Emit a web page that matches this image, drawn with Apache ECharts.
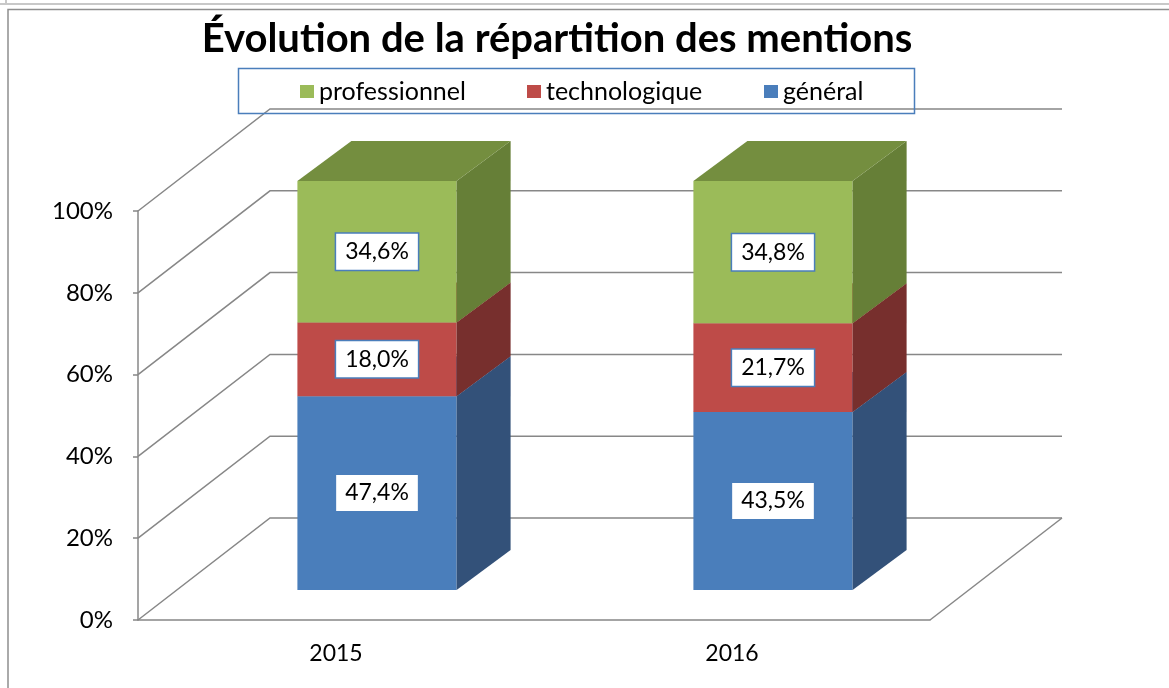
<!DOCTYPE html>
<html>
<head>
<meta charset="utf-8">
<script src="https://cdn.jsdelivr.net/npm/echarts@6/dist/echarts.min.js"></script>
<style>
  html, body { margin: 0; padding: 0; background: #fff; }
  #chart { width: 1169px; height: 688px; }
</style>
</head>
<body>
<div id="chart"></div>
<script>
var years = ['2015', '2016'];
var general = [47.4, 43.5];
var technologique = [18.0, 21.7];
var professionnel = [34.6, 34.8];
var yTicks = [0, 20, 40, 60, 80, 100];

var FONT = 'Lato';
var GRID_COLOR = '#878787';
// 3D offsets in px: front plane -> back wall, and the bar box
var WALL = [132, -102];
var BAR_FRONT = [41, -30];
var BAR_DEPTH = [54, -40];

var chart = echarts.init(document.getElementById('chart'), null, { renderer: 'canvas' });

function fmt(v) {
  return v.toFixed(1).replace('.', ',') + '%';
}

// cumulative stacks -> [catIndex, start, end, value]
function stack(values, bases) {
  return values.map(function (v, i) {
    var start = bases ? bases[i] : 0;
    return [i, start, start + v, v];
  });
}
var genData = stack(general);
var techData = stack(technologique, general);
var proData = stack(professionnel, general.map(function (g, i) { return g + technologique[i]; }));

function renderWall(params, api) {
  var cs = params.coordSys;
  var v = api.value(1);
  var y = api.coord([0, v])[1];
  var x0 = cs.x, x1 = cs.x + cs.width;
  var children = [{
    type: 'polyline',
    shape: { points: [[x0, y], [x0 + WALL[0], y + WALL[1]], [x1 + WALL[0], y + WALL[1]]] },
    style: { stroke: GRID_COLOR, lineWidth: 1.5, fill: null }
  }];
  if (v === 0) {
    children.push({
      type: 'line',
      shape: { x1: x1, y1: y, x2: x1 + WALL[0], y2: y + WALL[1] },
      style: { stroke: GRID_COLOR, lineWidth: 1.5 }
    });
  }
  return { type: 'group', children: children };
}

function barRenderer(front, side, top) {
  return function (params, api) {
    var i = api.value(0);
    var p0 = api.coord([i, api.value(1)]);
    var p1 = api.coord([i, api.value(2)]);
    var w = api.size([1, 0])[0] * 0.402;
    var xl = p0[0] - w / 2 + BAR_FRONT[0], xr = xl + w;
    var yb = p0[1] + BAR_FRONT[1], yt = p1[1] + BAR_FRONT[1];
    var dx = BAR_DEPTH[0], dy = BAR_DEPTH[1];
    return {
      type: 'group',
      children: [
        { type: 'polygon', shape: { points: [[xl, yb], [xr, yb], [xr, yt], [xl, yt]] }, style: { fill: front } },
        { type: 'polygon', shape: { points: [[xr, yb], [xr + dx, yb + dy], [xr + dx, yt + dy], [xr, yt]] }, style: { fill: side } },
        { type: 'polygon', shape: { points: [[xl, yt], [xr, yt], [xr + dx, yt + dy], [xl + dx, yt + dy]] }, style: { fill: top } },
        {
          type: 'text',
          x: (xl + xr) / 2,
          y: (yb + yt) / 2,
          style: {
            text: fmt(api.value(3)),
            align: 'center',
            verticalAlign: 'middle',
            font: '23px ' + FONT,
            fill: '#000',
            backgroundColor: '#fff',
            borderColor: '#4A7EBB',
            borderWidth: 1.5,
            padding: [7, 9, 6, 9]
          }
        }
      ]
    };
  };
}

function legendAt(name, left) {
  return {
    data: [name],
    left: left,
    top: 79,
    padding: 0,
    icon: 'rect',
    itemWidth: 14,
    itemHeight: 13,
    selectedMode: false,
    textStyle: { fontFamily: FONT, fontSize: 25, color: '#000' }
  };
}

var option = {
  backgroundColor: '#fff',
  animation: false,
  graphic: [
    { type: 'line', shape: { x1: 0, y1: 4, x2: 1169, y2: 4 }, style: { stroke: '#c8c8c8', lineWidth: 2 } },
    { type: 'line', shape: { x1: 6, y1: 0, x2: 6, y2: 4 }, style: { stroke: '#c8c8c8', lineWidth: 2 } },
    { type: 'rect', shape: { x: 8, y: 9.5, width: 1200, height: 700 }, style: { fill: null, stroke: '#8f8f8f', lineWidth: 1.5 } },
    {
      type: 'text', x: 557, y: 39,
      style: { text: 'Évolution de la répartition des mentions', align: 'center', verticalAlign: 'middle', font: 'bold 40px ' + FONT, fill: '#000' }
    },
    { type: 'rect', shape: { x: 238.5, y: 68.5, width: 676, height: 45 }, style: { fill: null, stroke: '#4A7EBB', lineWidth: 1.5 }, z: 10 }
  ],
  legend: [
    legendAt('professionnel', 300),
    legendAt('technologique', 527),
    legendAt('général', 764)
  ],
  grid: { left: 138, right: 239, top: 211, bottom: 68, containLabel: false, outerBoundsMode: 'none' },
  xAxis: {
    type: 'category',
    data: years,
    axisLine: { lineStyle: { color: GRID_COLOR, width: 1.5 } },
    axisTick: { length: 6, lineStyle: { color: GRID_COLOR, width: 1.5 } },
    axisLabel: { color: '#000', fontFamily: FONT, fontSize: 23, margin: 22 },
    splitLine: { show: false }
  },
  yAxis: {
    type: 'value',
    min: 0,
    max: 100,
    interval: 20,
    axisLine: { show: true, lineStyle: { color: GRID_COLOR, width: 1.5 } },
    axisTick: { show: true, length: 5, lineStyle: { color: GRID_COLOR, width: 1.5 } },
    axisLabel: { color: '#000', fontFamily: FONT, fontSize: 24, margin: 25, formatter: '{value}%' },
    splitLine: { show: false }
  },
  series: [
    {
      name: 'walls', type: 'custom', clip: false, silent: true,
      data: yTicks.map(function (v) { return [0, v]; }),
      encode: { x: 0, y: 1 },
      renderItem: renderWall
    },
    {
      name: 'général', type: 'custom', clip: false,
      itemStyle: { color: '#4A7EBB' },
      data: genData, encode: { x: 0, y: [1, 2] },
      renderItem: barRenderer('#4A7EBB', '#335179', '#3E6AA0')
    },
    {
      name: 'technologique', type: 'custom', clip: false,
      itemStyle: { color: '#BE4B48' },
      data: techData, encode: { x: 0, y: [1, 2] },
      renderItem: barRenderer('#BE4B48', '#772F2D', '#9A3B39')
    },
    {
      name: 'professionnel', type: 'custom', clip: false,
      itemStyle: { color: '#9BBB59' },
      data: proData, encode: { x: 0, y: [1, 2] },
      renderItem: barRenderer('#9BBB59', '#667F37', '#748E3F')
    }
  ]
};

chart.setOption(option);
</script>
</body>
</html>
